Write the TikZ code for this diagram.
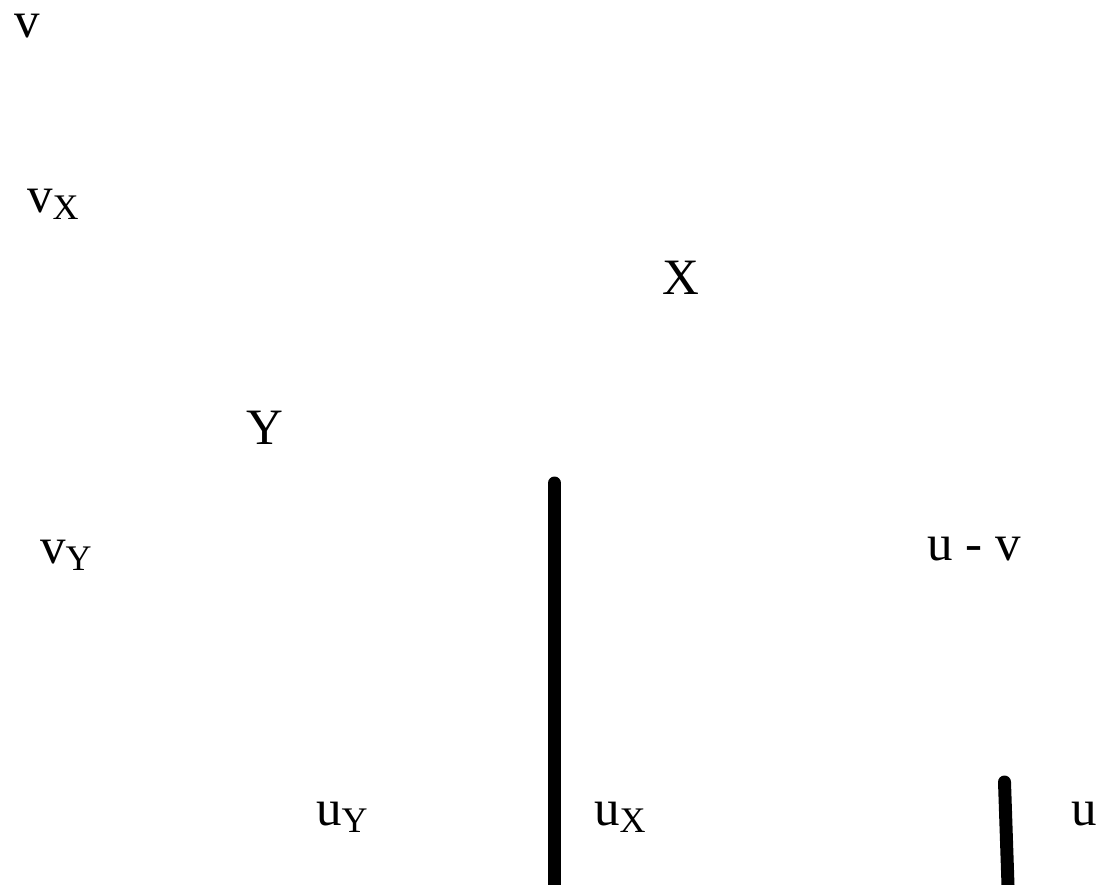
\documentclass[tikz,border=0pt]{standalone}
\usepackage{fontspec}
\setmainfont{Liberation Serif}
\newcommand{\mysub}[1]{\raisebox{-7pt}{\fontsize{36}{36}\selectfont #1}}
\tikzset{
  lbl/.style={anchor=base west, inner sep=0pt, font=\fontsize{51}{51}\selectfont},
  thick line/.style={line width=13pt, line cap=round}
}
\begin{document}
\begin{tikzpicture}[x=1pt,y=-1pt]
\useasboundingbox (0,0) rectangle (1104,885);
\clip (0,0) rectangle (1104,885);
\node[lbl] (v) at (14,38) {v};
\node[lbl] (vX) at (27,213) {v\mysub{X}};
\node[lbl] (X) at (662,295) {X};
\node[lbl] (Y) at (246,445) {Y};
\node[lbl] (vY) at (40,563) {v\mysub{Y}};
\node[lbl] (uv) at (927,560) {u - v};
\node[lbl] (uY) at (316,825) {u\mysub{Y}};
\node[lbl] (uX) at (594,825) {u\mysub{X}};
\node[lbl] (u) at (1071,825) {u};
\coordinate (a1) at (554.5,483);
\coordinate (a2) at (554.5,900);
\coordinate (b1) at (1004.5,782);
\coordinate (b2) at (1008.5,900);
\draw[thick line] (a1) -- (a2);
\draw[thick line] (b1) -- (b2);
\end{tikzpicture}
\end{document}
